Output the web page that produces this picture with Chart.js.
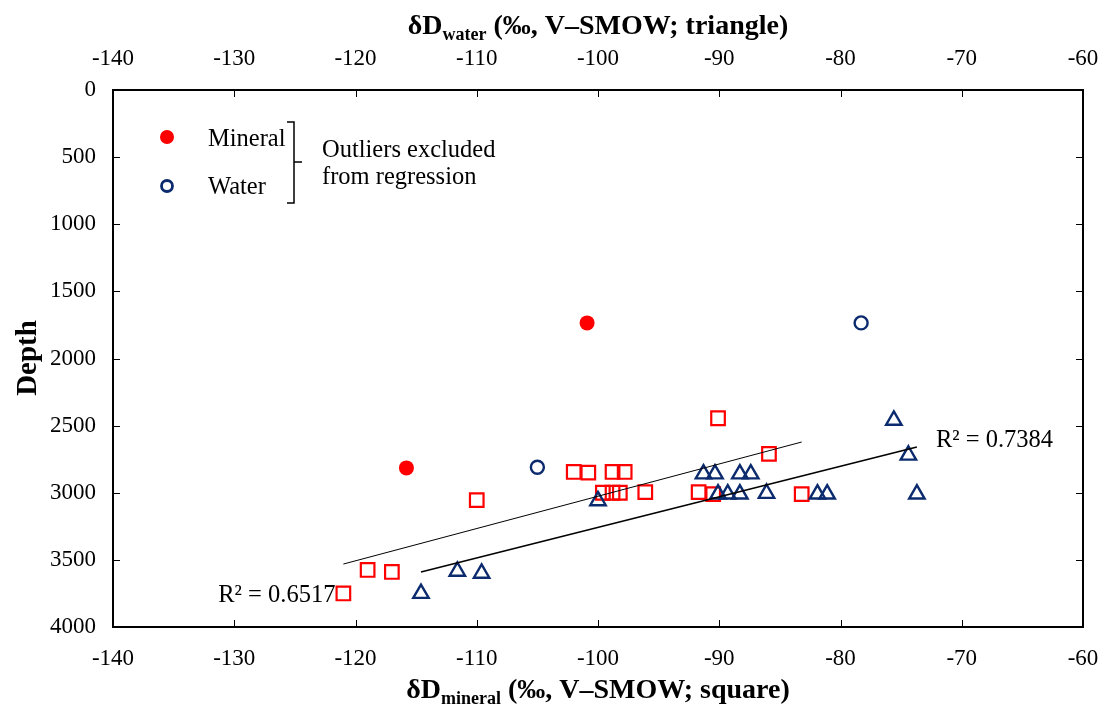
<!DOCTYPE html>
<html>
<head>
<meta charset="utf-8">
<script src="https://cdn.jsdelivr.net/npm/chart.js@4.4.0/dist/chart.umd.min.js"></script>
<style>
  html, body { margin: 0; padding: 0; background: #fff; }
  #wrap { width: 1105px; height: 708px; }
</style>
</head>
<body>
<div id="wrap"><canvas id="grafica" width="1105" height="708"></canvas></div>
<script>
// δD mineral (squares, bottom axis) and depth
const mineralX = [-121, -119, -117, -110, -102, -100.8, -98.8, -97.8, -99.6, -98.8, -98.2, -96.1, -91.7, -90.5, -90.1, -85.9, -83.2];
const mineralDepth = [3750, 3575, 3590, 3055, 2845, 2850, 2845, 2845, 3000, 3000, 3000, 2995, 2995, 3010, 2445, 2710, 3010];

// δD water (triangles, top axis) and depth
const waterX = [-114.6, -111.6, -109.6, -100.0, -91.3, -90.35, -88.3, -87.4, -90.1, -89.3, -88.3, -86.1, -81.9, -81.1, -75.6, -74.4, -73.7];
const waterDepth = [3750, 3585, 3600, 3060, 2860, 2860, 2860, 2860, 3010, 3010, 3010, 3005, 3010, 3010, 2460, 2720, 3010];

// outliers excluded from regression
const outMineralX = [-100.9, -115.8];
const outMineralDepth = [1735, 2815];
const outWaterX = [-78.3, -105.0];
const outWaterDepth = [1735, 2810];

// trend lines (end points)
const trendMineralX = [-121, -83.2];
const trendMineralDepth = [3531, 2622];
const trendWaterX = [-114.6, -73.7];
const trendWaterDepth = [3590, 2659];

const r2Mineral = 'R² = 0.6517';
const r2Water = 'R² = 0.7384';

const xTicks = [-140, -130, -120, -110, -100, -90, -80, -70, -60];
const depthTicks = [0, 500, 1000, 1500, 2000, 2500, 3000, 3500, 4000];

const RED = '#ff0000';
const NAVY = '#0b2b6e';
const SERIF = '"Liberation Serif", "Times New Roman", serif';

function pts(xs, ys) {
  return xs.map((x, i) => ({ x: x, y: ys[i] }));
}

// box, inward ticks, titles, legend and R² labels
const extras = {
  id: 'extras',
  afterDraw(chart) {
    const ctx = chart.ctx;
    const a = chart.chartArea;
    const sx = chart.scales.x, sy = chart.scales.y;
    ctx.save();
    ctx.strokeStyle = '#000';
    ctx.lineWidth = 2;
    ctx.strokeRect(a.left, a.top, a.right - a.left, a.bottom - a.top);

    ctx.lineWidth = 1;
    ctx.beginPath();
    xTicks.forEach(v => {
      const px = Math.round(sx.getPixelForValue(v)) + 0.5;
      ctx.moveTo(px, a.bottom); ctx.lineTo(px, a.bottom - 7);
      ctx.moveTo(px, a.top); ctx.lineTo(px, a.top + 7);
    });
    depthTicks.forEach(v => {
      const py = Math.round(sy.getPixelForValue(v)) + 0.5;
      ctx.moveTo(a.left, py); ctx.lineTo(a.left + 7, py);
      ctx.moveTo(a.right, py); ctx.lineTo(a.right - 7, py);
    });
    ctx.stroke();

    // axis titles with subscripts
    const cx = (a.left + a.right) / 2;
    function subTitle(main, sub, rest, y) {
      const big = 'bold 28px ' + SERIF, small = 'bold 18px ' + SERIF;
      ctx.font = big; const w1 = ctx.measureText(main).width; const w3 = ctx.measureText(rest).width;
      ctx.font = small; const w2 = ctx.measureText(sub).width;
      let x = cx - (w1 + w2 + w3) / 2;
      ctx.fillStyle = '#000';
      ctx.textBaseline = 'alphabetic';
      ctx.textAlign = 'left';
      ctx.font = big; ctx.fillText(main, x, y); x += w1;
      ctx.font = small; ctx.fillText(sub, x, y + 6); x += w2;
      ctx.font = big; ctx.fillText(rest, x, y);
    }
    subTitle('δD', 'water', ' (‰, V–SMOW; triangle)', 34);
    subTitle('δD', 'mineral', ' (‰, V–SMOW; square)', 698);

    ctx.save();
    ctx.translate(29, 358);
    ctx.rotate(-Math.PI / 2);
    ctx.font = 'bold 29px ' + SERIF;
    ctx.textAlign = 'center';
    ctx.textBaseline = 'middle';
    ctx.fillText('Depth', 0, 0);
    ctx.restore();

    // legend for outliers
    ctx.fillStyle = RED;
    ctx.beginPath(); ctx.arc(167, 137, 7, 0, Math.PI * 2); ctx.fill();
    ctx.strokeStyle = NAVY; ctx.lineWidth = 2.8;
    ctx.beginPath(); ctx.arc(167, 186, 5.5, 0, Math.PI * 2); ctx.stroke();
    ctx.fillStyle = '#000';
    ctx.font = '24.5px ' + SERIF;
    ctx.textAlign = 'left';
    ctx.textBaseline = 'middle';
    ctx.fillText('Mineral', 208, 140);
    ctx.fillText('Water', 208, 188);
    ctx.fillText('Outliers excluded', 322, 151);
    ctx.fillText('from regression', 322, 178);
    ctx.strokeStyle = '#000'; ctx.lineWidth = 1.5;
    ctx.beginPath();
    ctx.moveTo(287, 122); ctx.lineTo(294, 122); ctx.lineTo(294, 203); ctx.lineTo(287, 203);
    ctx.moveTo(294, 162); ctx.lineTo(302, 162);
    ctx.stroke();

    // R² labels beside the trend line ends
    const wEndX = sx.getPixelForValue(trendWaterX[1]);
    const wEndY = sy.getPixelForValue(trendWaterDepth[1]);
    ctx.textAlign = 'left';
    ctx.fillText(r2Water, wEndX + 19, wEndY - 6);
    const mStartX = sx.getPixelForValue(trendMineralX[0]);
    const mStartY = sy.getPixelForValue(trendMineralDepth[0]);
    ctx.textAlign = 'right';
    ctx.fillText(r2Mineral, mStartX - 8, mStartY + 32);
    ctx.restore();
  }
};

const tickFont = { family: SERIF, size: 23 };
const plain = v => String(v);

const grafica = document.getElementById('grafica');
const chart = new Chart(grafica, {
  type: 'scatter',
  data: {
    datasets: [
      {
        label: 'trend water',
        type: 'line',
        data: pts(trendWaterX, trendWaterDepth),
        xAxisID: 'x2',
        borderColor: '#000',
        borderWidth: 1.6,
        pointRadius: 0,
        fill: false
      },
      {
        label: 'trend mineral',
        type: 'line',
        data: pts(trendMineralX, trendMineralDepth),
        borderColor: '#000',
        borderWidth: 1,
        pointRadius: 0,
        fill: false
      },
      {
        label: 'Water',
        data: pts(waterX, waterDepth),
        xAxisID: 'x2',
        pointStyle: 'triangle',
        pointRadius: 8.9,
        pointBorderWidth: 2.4,
        pointBorderColor: NAVY,
        pointBackgroundColor: 'rgba(0,0,0,0)'
      },
      {
        label: 'Mineral',
        data: pts(mineralX, mineralDepth),
        pointStyle: 'rect',
        pointRadius: 9.6,
        pointBorderWidth: 2.2,
        pointBorderColor: RED,
        pointBackgroundColor: 'rgba(0,0,0,0)'
      },
      {
        label: 'Mineral outlier',
        data: pts(outMineralX, outMineralDepth),
        pointStyle: 'circle',
        pointRadius: 7.5,
        pointBorderWidth: 0,
        pointBackgroundColor: RED
      },
      {
        label: 'Water outlier',
        data: pts(outWaterX, outWaterDepth),
        xAxisID: 'x2',
        pointStyle: 'circle',
        pointRadius: 6.5,
        pointBorderWidth: 2.4,
        pointBorderColor: NAVY,
        pointBackgroundColor: 'rgba(0,0,0,0)'
      }
    ]
  },
  options: {
    responsive: false,
    devicePixelRatio: 1,
    animation: false,
    layout: { padding: { right: 22, left: 0, top: 0, bottom: 0 } },
    plugins: { legend: { display: false }, tooltip: { enabled: false } },
    scales: {
      x: {
        type: 'linear', position: 'bottom', min: -140, max: -60,
        afterBuildTicks: s => { s.ticks = xTicks.map(v => ({ value: v })); },
        ticks: { font: tickFont, color: '#000', padding: 18, maxRotation: 0, callback: plain },
        grid: { display: false, drawTicks: false },
        border: { display: false },
        afterFit: s => { s.height = 81; s.paddingLeft = 0; s.paddingRight = 0; }
      },
      x2: {
        type: 'linear', position: 'top', min: -140, max: -60,
        afterBuildTicks: s => { s.ticks = xTicks.map(v => ({ value: v })); },
        ticks: { font: tickFont, color: '#000', padding: 17, maxRotation: 0, callback: plain },
        grid: { display: false, drawTicks: false },
        border: { display: false },
        afterFit: s => { s.height = 90; s.paddingLeft = 0; s.paddingRight = 0; }
      },
      y: {
        type: 'linear', reverse: true, min: 0, max: 4000,
        afterBuildTicks: s => { s.ticks = depthTicks.map(v => ({ value: v })); },
        ticks: { font: tickFont, color: '#000', padding: 17, callback: plain },
        grid: { display: false, drawTicks: false },
        border: { display: false },
        afterFit: s => { s.width = 113; s.paddingTop = 0; s.paddingBottom = 0; }
      }
    }
  },
  plugins: [extras]
});
</script>
</body>
</html>
